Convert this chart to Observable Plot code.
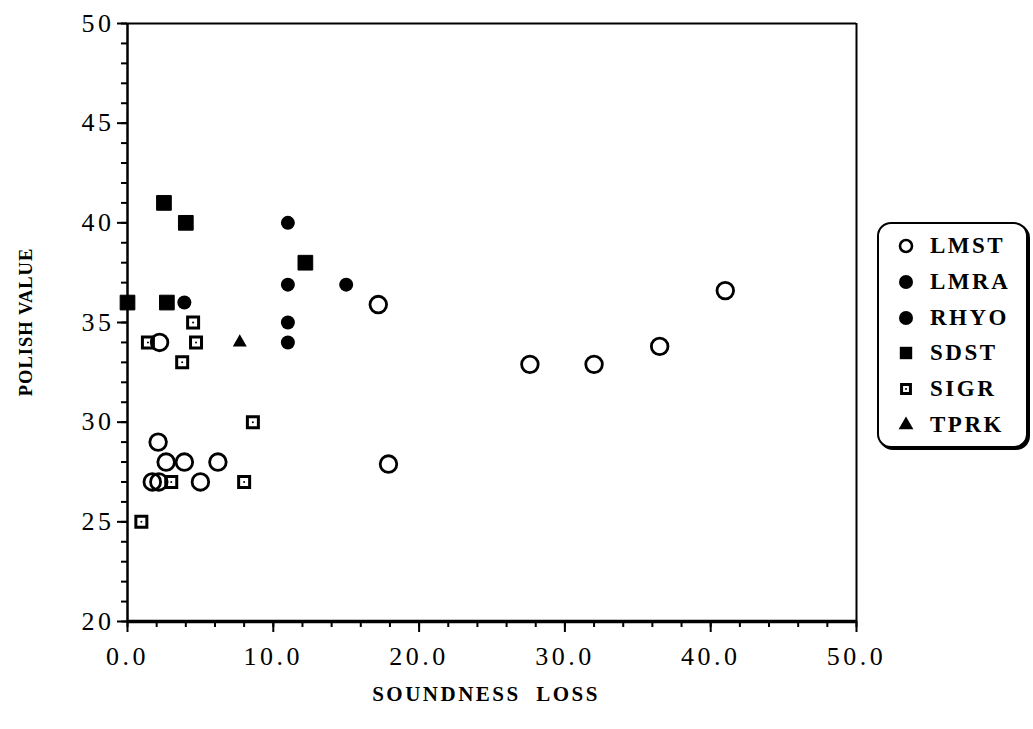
<!DOCTYPE html>
<html>
<head>
<meta charset="utf-8">
<script src="https://cdn.jsdelivr.net/npm/d3@7"></script>
<script src="https://cdn.jsdelivr.net/npm/@observablehq/plot@0.6"></script>
<style>
  html, body { margin: 0; padding: 0; background: #fff; }
  #wrap { position: relative; width: 1033px; height: 729px; }
  #legend {
    position: absolute; left: 877px; top: 222px; width: 151px; height: 226px;
    border: 2.5px solid #000; border-radius: 14px; box-sizing: border-box;
    box-shadow: 2px 2px 0 #000; background: #fff;
    font-family: "Liberation Serif", "DejaVu Serif", serif; font-weight: bold;
  }
  .item { position: absolute; left: 0; height: 30px; display: flex; align-items: center; }
  .item svg { margin-left: 17px; }
  .item span { margin-left: 14px; font-size: 23px; letter-spacing: 2.5px; }
</style>
</head>
<body>
<div id="wrap"></div>
<script>
// ---- data ----
const categories = ["LMST", "LMRA", "RHYO", "SDST", "SIGR", "TPRK"];

const LMST_x = [2.2, 2.1, 2.65, 3.9, 6.2, 1.7, 2.15, 5.0, 17.2, 17.9, 27.6, 32.0, 36.5, 41.0];
const LMST_y = [34, 29, 28, 28, 28, 27, 27, 27, 35.9, 27.9, 32.9, 32.9, 33.8, 36.6];

const LMRA_x = [11, 11, 11, 11];
const LMRA_y = [40, 36.9, 35, 34];

const RHYO_x = [3.9, 15];
const RHYO_y = [36, 36.9];

const SDST_x = [2.5, 4.0, 12.2, 0, 2.7];
const SDST_y = [41, 40, 38, 36, 36];

const SIGR_x = [4.5, 1.4, 4.7, 3.75, 8.6, 3.0, 8.0, 0.95];
const SIGR_y = [35, 34, 34, 33, 30, 27, 27, 25];

const TPRK_x = [7.7];
const TPRK_y = [34];

const xMajorTicks = [0, 10, 20, 30, 40, 50];
const xMinorTicks = [0, 2, 4, 6, 8, 10, 12, 14, 16, 18, 20, 22, 24, 26, 28, 30, 32, 34, 36, 38, 40, 42, 44, 46, 48, 50];
const yMajorTicks = [20, 25, 30, 35, 40, 45, 50];
const yMinorTicks = [20,21,22,23,24,25,26,27,28,29,30,31,32,33,34,35,36,37,38,39,40,41,42,43,44,45,46,47,48,49,50];

const xLabel = "SOUNDNESS  LOSS";
const yLabel = "POLISH VALUE";

// ---- build ----
const pts = (xs, ys) => xs.map((x, i) => ({x, y: ys[i]}));
const serif = "'Liberation Serif', 'DejaVu Serif', serif";

const chart = Plot.plot({
  width: 1033,
  height: 729,
  marginLeft: 127,
  marginRight: 177,
  marginTop: 23,
  marginBottom: 108,
  style: {fontFamily: serif, background: "#fff", overflow: "visible"},
  x: {domain: [0, 50]},
  y: {domain: [20, 50]},
  marks: [
    // frame lines
    Plot.ruleY([50], {stroke: "#000", strokeWidth: 2}),
    Plot.ruleX([50], {stroke: "#000", strokeWidth: 2}),
    // minor ticks
    Plot.axisX({ticks: xMinorTicks, tickSize: 6, tickFormat: () => "", strokeWidth: 2, label: null}),
    Plot.axisX({ticks: xMajorTicks, tickSize: 11, tickPadding: 14, tickFormat: d => d.toFixed(1),
      fontSize: 26, strokeWidth: 2, label: null, fill: "#000"}),
    Plot.axisY({ticks: yMinorTicks, tickSize: 6, tickFormat: () => "", strokeWidth: 2, label: null}),
    Plot.axisY({ticks: yMajorTicks, tickSize: 10, tickPadding: 3, fontSize: 26, strokeWidth: 2, label: null, fill: "#000"}),
    // axis lines
    Plot.ruleY([20], {stroke: "#000", strokeWidth: 3.5}),
    Plot.ruleX([0], {stroke: "#000", strokeWidth: 2.5}),
    // data
    Plot.dot(pts(SIGR_x, SIGR_y), {x: "x", y: "y", symbol: "square", r: 6.2, fill: "#fff", stroke: "#000", strokeWidth: 3}),
    Plot.dot(pts(SIGR_x, SIGR_y), {x: "x", y: "y", symbol: "circle", r: 1, fill: "#000"}),
    Plot.dot(pts(SDST_x, SDST_y), {x: "x", y: "y", symbol: "square", r: 8.3, fill: "#000", stroke: "#000", strokeWidth: 1, strokeLinejoin: "round"}),
    Plot.dot(pts(LMRA_x, LMRA_y), {x: "x", y: "y", symbol: "circle", r: 7, fill: "#000"}),
    Plot.dot(pts(RHYO_x, RHYO_y), {x: "x", y: "y", symbol: "circle", r: 7, fill: "#000"}),
    Plot.dot(pts(TPRK_x, TPRK_y), {x: "x", y: "y", symbol: "triangle", r: 5.2, fill: "#000"}),
    Plot.dot(pts(LMST_x, LMST_y), {x: "x", y: "y", symbol: "circle", r: 8.3, fill: "none", stroke: "#000", strokeWidth: 2.8})
  ]
});

const wrap = document.getElementById("wrap");
wrap.appendChild(chart);

const svg = d3.select(chart);
// widen tick labels like the original typeface
svg.selectAll("g[aria-label='x-axis tick label'] text, g[aria-label='y-axis tick label'] text")
  .attr("letter-spacing", 3.5);

// axis labels as SVG text
svg.append("text")
  .attr("x", 486).attr("y", 701)
  .attr("text-anchor", "middle")
  .attr("font-family", serif).attr("font-weight", "bold")
  .attr("font-size", 21).attr("letter-spacing", 2.5)
  .style("white-space", "pre")
  .text(xLabel);
svg.append("text")
  .attr("transform", "translate(32,322) rotate(-90)")
  .attr("text-anchor", "middle")
  .attr("font-family", serif).attr("font-weight", "bold")
  .attr("font-size", 18.5).attr("letter-spacing", 1)
  .style("white-space", "pre")
  .text(yLabel);

// legend
const legend = document.createElement("div");
legend.id = "legend";
wrap.appendChild(legend);
const legendSym = {
  LMST: {type: d3.symbolCircle, r: 6, fill: "none", stroke: "#000", sw: 2.6},
  LMRA: {type: d3.symbolCircle, r: 7, fill: "#000", stroke: "none", sw: 0},
  RHYO: {type: d3.symbolCircle, r: 7, fill: "#000", stroke: "none", sw: 0},
  SDST: {type: d3.symbolSquare, r: 7, fill: "#000", stroke: "none", sw: 0},
  SIGR: {type: d3.symbolSquare, r: 5, fill: "#fff", stroke: "#000", sw: 3, dot: true},
  TPRK: {type: d3.symbolTriangle, r: 5.5, fill: "#000", stroke: "none", sw: 0}
};
categories.forEach((c, i) => {
  const item = document.createElement("div");
  item.className = "item";
  item.style.top = (7 + i * 35.8) + "px";
  const s = legendSym[c];
  const path = d3.symbol(s.type, Math.PI * s.r * s.r)();
  item.innerHTML = `<svg width="20" height="20" viewBox="-10 -10 20 20"><path d="${path}" fill="${s.fill}" stroke="${s.stroke}" stroke-width="${s.sw}"/>${s.dot ? '<circle r="1" fill="#000"/>' : ''}</svg><span>${c}</span>`;
  legend.appendChild(item);
});
</script>
</body>
</html>
